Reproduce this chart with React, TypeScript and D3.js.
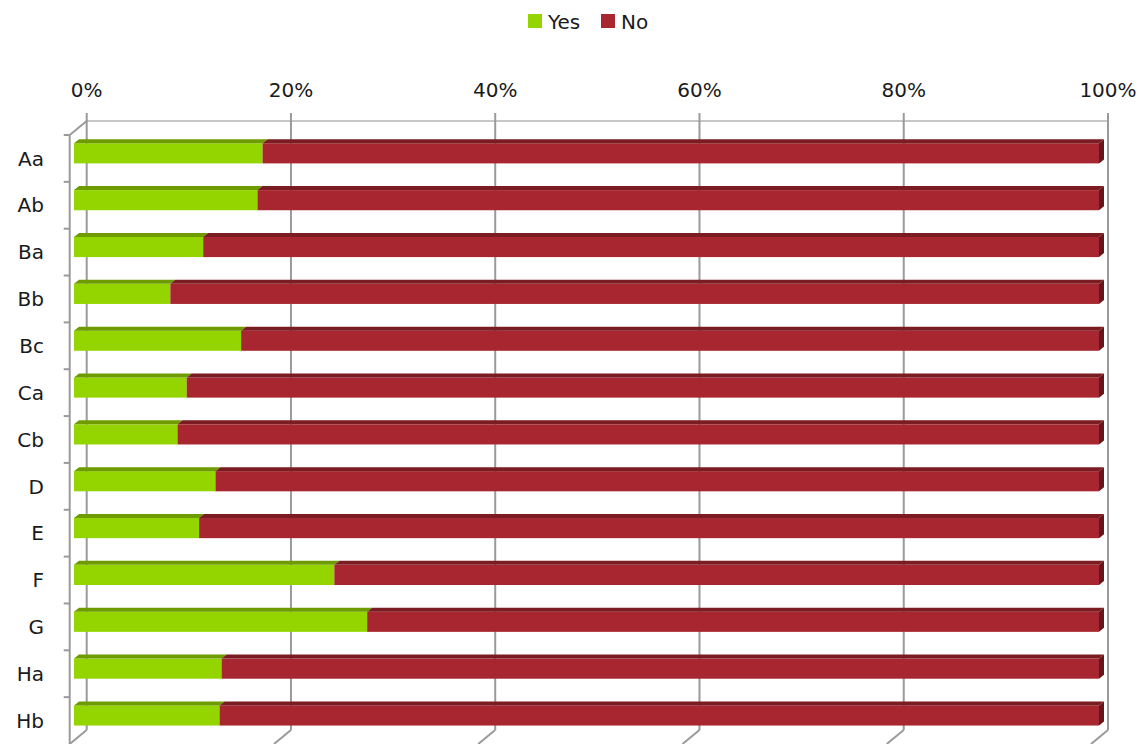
import * as d3 from "d3";

const categories = ["Aa", "Ab", "Ba", "Bb", "Bc", "Ca", "Cb", "D", "E", "F", "G", "Ha", "Hb"];
const yesValues = [18.4, 17.9, 12.6, 9.4, 16.3, 11.0, 10.1, 13.8, 12.2, 25.4, 28.6, 14.4, 14.2];
const noValues = yesValues.map(v => 100 - v);
const tickValues = [0, 20, 40, 60, 80, 100];

const W = 1148;
const H = 744;
// oblique depth of the 3D box (back wall -> front plane)
const DX = -17;
const DY = 14;
const FONT = "'DejaVu Sans', sans-serif";

const GREEN = { front: "#94d500", top: "#6e9c00" };
const RED = { front: "#a8262f", top: "#7b1b22", end: "#66161b" };

export default function App() {
  const xBack = d3.scaleLinear().domain([0, 100]).range([86.7, 1108]);
  const xBar = d3.scaleLinear().domain([0, 100]).range([74, 1099]);
  const yBack = d3.scaleBand().domain(categories).range([121, 730]);
  const yBar = d3.scaleBand().domain(categories).range([121 + 8.9, 730 + 8.9])
    .paddingInner(0.57).paddingOuter(0.285);
  const step = yBack.step();
  const topH = 4;
  const topDx = 5;

  const face = (x0: number, x1: number, y: number) =>
    `M${x0},${y}L${x0 + topDx},${y - topH}L${x1 + topDx},${y - topH}L${x1},${y}Z`;

  return (
    <svg width={W} height={H} style={{ position: "absolute", left: 0, top: 0, background: "#fff" }}>
      {/* legend */}
      <g fontFamily={FONT} fontSize={20} fill="#1a1a1a">
        <rect x={528} y={14} width={14} height={14} fill={GREEN.front} />
        <text x={548} y={29}>Yes</text>
        <rect x={601} y={14} width={14} height={14} fill={RED.front} />
        <text x={621} y={29}>No</text>
      </g>

      {/* back wall top edge */}
      <line x1={xBack(0)} x2={xBack(100)} y1={121} y2={121} stroke="#b4b4b4" strokeWidth={1.5} />

      {/* gridlines with floor diagonals */}
      {tickValues.map(t => (
        <g key={t} stroke="#9a9a9a" strokeWidth={2} fill="none">
          <line x1={xBack(t)} x2={xBack(t)} y1={113} y2={730} />
          <line x1={xBack(t)} x2={xBack(t) + DX} y1={730} y2={730 + DY} />
        </g>
      ))}

      {/* top axis labels */}
      {tickValues.map(t => (
        <text key={t} x={xBack(t)} y={97} textAnchor="middle" fontFamily={FONT} fontSize={20} fill="#1a1a1a">
          {t}%
        </text>
      ))}

      {/* front left axis */}
      <g stroke="#9a9a9a" strokeWidth={2} fill="none">
        <line x1={xBack(0) + DX} x2={xBack(0) + DX} y1={121 + DY} y2={730 + DY} />
        <line x1={xBack(0) + DX} x2={xBack(0)} y1={121 + DY} y2={121} />
        {categories.map(c => (
          <line key={c} x1={xBack(0) + DX - 6} x2={xBack(0) + DX} y1={yBack(c)! + DY} y2={yBack(c)! + DY} />
        ))}
      </g>

      {/* category labels */}
      {categories.map(c => (
        <text key={c} x={44} y={yBack(c)! + DY + step / 2} dy="0.36em" textAnchor="end"
          fontFamily={FONT} fontSize={20} fill="#1a1a1a">
          {c}
        </text>
      ))}

      {/* bars */}
      {categories.map((c, i) => {
        const y = yBar(c)!;
        const h = yBar.bandwidth();
        const x0 = xBar(0);
        const x1 = xBar(yesValues[i]);
        const x2 = xBar(yesValues[i] + noValues[i]);
        return (
          <g key={c}>
            <rect x={x0} y={y} width={x1 - x0} height={h} fill={GREEN.front} />
            <path d={face(x0, x1, y)} fill={GREEN.top} />
            <rect x={x1} y={y} width={x2 - x1} height={h} fill={RED.front} />
            <path d={face(x1, x2, y)} fill={RED.top} />
            <path d={`M${x2},${y}L${x2 + topDx},${y - topH}L${x2 + topDx},${y + h - topH}L${x2},${y + h}Z`} fill={RED.end} />
          </g>
        );
      })}
    </svg>
  );
}
